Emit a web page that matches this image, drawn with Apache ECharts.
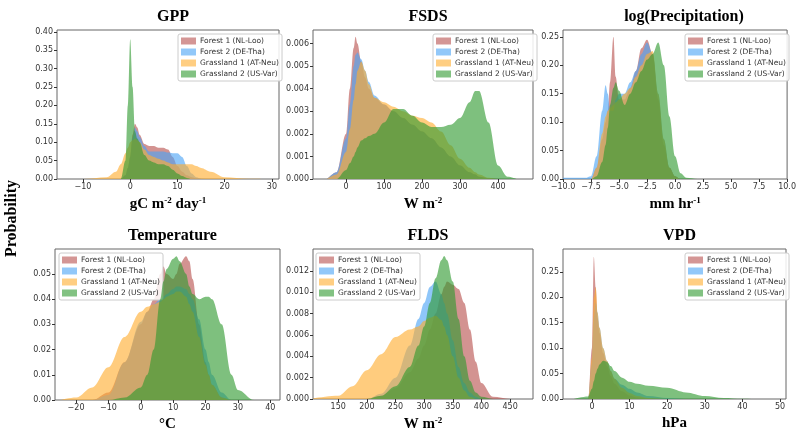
<!DOCTYPE html>
<html><head><meta charset="utf-8">
<script src="https://cdn.jsdelivr.net/npm/echarts@6/dist/echarts.min.js"></script>
<style>html,body{margin:0;padding:0;background:#fff}#c{width:799px;height:433px}</style>
</head><body><div id="c"></div>
<script>
const seriesNames = ['Forest 1 (NL-Loo)','Forest 2 (DE-Tha)','Grassland 1 (AT-Neu)','Grassland 2 (US-Var)'];

const gppX = [-15,-10,-5,-3,-2,-1,-0.5,0,0.5,1,1.5,2,3,4,5,6,7,8,9,10,11,12,13,14,15,17,20,25,30];
const gppF1 = [0,0,0,0,0,0.01,0.03,0.06,0.12,0.15,0.14,0.12,0.095,0.09,0.09,0.085,0.085,0.08,0.06,0.035,0.02,0.01,0.005,0.002,0,0,0,0,0];
const gppF2 = [0,0,0,0,0,0.01,0.03,0.06,0.11,0.14,0.13,0.115,0.09,0.075,0.075,0.075,0.075,0.072,0.07,0.07,0.06,0.035,0.015,0.005,0.001,0,0,0,0];
const gppG1 = [0,0,0.005,0.02,0.04,0.07,0.085,0.1,0.105,0.11,0.105,0.1,0.08,0.065,0.06,0.055,0.05,0.045,0.04,0.04,0.04,0.04,0.04,0.035,0.03,0.02,0.005,0.001,0];
const gppG2 = [0,0,0,0,0,0.05,0.2,0.38,0.25,0.13,0.11,0.1,0.065,0.05,0.045,0.04,0.04,0.035,0.025,0.015,0.008,0.003,0,0,0,0,0,0,0];

const fsdsX = [-50,-25,0,10,20,25,30,40,50,60,75,100,125,150,175,200,225,250,275,300,325,340,350,375,400,425,450];
const fsdsF1 = [0,0.0003,0.002,0.004,0.0058,0.0063,0.006,0.0052,0.0045,0.004,0.0036,0.0033,0.003,0.0027,0.0024,0.0021,0.0018,0.0014,0.001,0.0006,0.0003,0.0002,0.0001,0.00003,0,0,0];
const fsdsF2 = [0,0.0003,0.0018,0.0033,0.005,0.0055,0.0056,0.0053,0.0048,0.0043,0.0037,0.0033,0.003,0.0027,0.0024,0.0021,0.0018,0.0014,0.001,0.0006,0.0003,0.0002,0.0001,0.00003,0,0,0];
const fsdsG1 = [0,0.0002,0.0012,0.0022,0.0035,0.0042,0.0048,0.0052,0.0048,0.0042,0.0036,0.0034,0.0032,0.003,0.0028,0.0027,0.0025,0.0021,0.0015,0.0009,0.0005,0.0003,0.0002,0.00005,0,0,0];
const fsdsG2 = [0,0,0.0004,0.0007,0.001,0.0012,0.0014,0.0017,0.0018,0.0019,0.002,0.0025,0.0031,0.0031,0.0028,0.0025,0.0023,0.0023,0.0024,0.0027,0.0034,0.0039,0.0039,0.0025,0.0006,0.0001,0];

const preX = [-10,-8,-7.5,-7,-6.5,-6.2,-6,-5.8,-5.5,-5.3,-5,-4.5,-4,-3.5,-3,-2.5,-2,-1.5,-1,-0.5,0,0.5,1,2,10];
const preF1 = [0,0,0,0.02,0.07,0.1,0.12,0.17,0.25,0.18,0.14,0.14,0.16,0.19,0.23,0.245,0.22,0.14,0.06,0.02,0.005,0,0,0,0];
const preF2 = [0.002,0.002,0.005,0.04,0.12,0.165,0.15,0.12,0.12,0.14,0.15,0.15,0.17,0.19,0.22,0.24,0.22,0.15,0.07,0.02,0.005,0,0,0,0];
const preG1 = [0,0,0,0.02,0.08,0.11,0.12,0.125,0.13,0.135,0.14,0.15,0.16,0.18,0.2,0.22,0.225,0.15,0.07,0.02,0.005,0,0,0,0];
const preG2 = [0,0,0,0.005,0.03,0.06,0.09,0.13,0.16,0.17,0.155,0.13,0.15,0.17,0.19,0.21,0.22,0.24,0.2,0.11,0.04,0.01,0.002,0,0];

const tmpX = [-25,-20,-15,-10,-5,0,2,4,6,7,8,10,11,12,14,15,16,18,20,21,22,25,28,30,35,40];
const tmpF1 = [0,0,0,0.003,0.015,0.03,0.035,0.04,0.05,0.053,0.05,0.048,0.05,0.054,0.057,0.055,0.048,0.03,0.015,0.01,0.006,0.001,0,0,0,0];
const tmpF2 = [0,0,0,0.002,0.015,0.031,0.035,0.038,0.04,0.041,0.042,0.044,0.045,0.045,0.044,0.042,0.04,0.032,0.02,0.015,0.01,0.003,0,0,0,0];
const tmpG1 = [0,0.001,0.005,0.013,0.025,0.035,0.037,0.038,0.039,0.04,0.041,0.042,0.043,0.043,0.041,0.038,0.035,0.025,0.014,0.01,0.006,0.001,0,0,0,0];
const tmpG2 = [0,0,0,0,0.001,0.005,0.01,0.02,0.04,0.047,0.052,0.056,0.057,0.055,0.05,0.045,0.042,0.04,0.041,0.041,0.04,0.03,0.01,0.004,0,0];

const fldX = [100,150,175,200,225,250,275,290,300,310,320,330,335,340,350,360,370,380,390,400,420,450,480];
const fldF1 = [0,0,0,0,0.0003,0.001,0.0025,0.0038,0.005,0.0065,0.008,0.0098,0.0105,0.011,0.0107,0.0103,0.009,0.0065,0.0035,0.0015,0.0002,0,0];
const fldF2 = [0,0,0,0,0.0005,0.002,0.005,0.0075,0.009,0.0105,0.011,0.0098,0.009,0.008,0.0055,0.003,0.0015,0.0006,0.0002,0,0,0,0];
const fldG1 = [0,0.0003,0.0012,0.0027,0.0042,0.0058,0.0065,0.0068,0.0073,0.0076,0.0078,0.0074,0.0068,0.006,0.004,0.002,0.0008,0.0002,0,0,0,0,0];
const fldG2 = [0,0,0,0,0.0003,0.0012,0.003,0.005,0.0068,0.009,0.0113,0.013,0.0134,0.013,0.011,0.0075,0.004,0.0017,0.0006,0.0002,0,0,0];

const vpdX = [-5,-1,0,0.5,1,1.5,2,3,4,5,6,8,10,12,15,20,25,30,35,40,45,50];
const vpdF1 = [0,0,0.1,0.28,0.22,0.16,0.13,0.09,0.065,0.045,0.03,0.015,0.007,0.003,0.001,0,0,0,0,0,0,0];
const vpdF2 = [0,0,0.07,0.16,0.19,0.17,0.14,0.1,0.075,0.055,0.04,0.028,0.02,0.013,0.006,0.002,0,0,0,0,0,0];
const vpdG1 = [0,0,0.08,0.2,0.22,0.17,0.14,0.1,0.075,0.055,0.04,0.022,0.012,0.006,0.002,0,0,0,0,0,0,0];
const vpdG2 = [0,0.005,0.02,0.035,0.05,0.06,0.068,0.075,0.073,0.065,0.055,0.042,0.034,0.03,0.026,0.022,0.013,0.006,0.002,0.0005,0,0];

const gppXTicks = [-10,0,10,20,30];  const gppYTicks = [0,0.05,0.1,0.15,0.2,0.25,0.3,0.35,0.4];
const fsdsXTicks = [0,100,200,300,400]; const fsdsYTicks = [0,0.001,0.002,0.003,0.004,0.005,0.006];
const preXTicks = [-10,-7.5,-5,-2.5,0,2.5,5,7.5,10]; const preYTicks = [0,0.05,0.1,0.15,0.2,0.25];
const tmpXTicks = [-20,-10,0,10,20,30,40]; const tmpYTicks = [0,0.01,0.02,0.03,0.04,0.05];
const fldXTicks = [150,200,250,300,350,400,450]; const fldYTicks = [0,0.002,0.004,0.006,0.008,0.01,0.012];
const vpdXTicks = [0,10,20,30,40,50]; const vpdYTicks = [0,0.05,0.1,0.15,0.2,0.25];

const titles = ['GPP','FSDS','log(Precipitation)','Temperature','FLDS','VPD'];
const xNames = ['gC m{s|-2} day{s|-1}','W m{s|-2}','mm hr{s|-1}','°C','W m{s|-2}','hPa'];

const colors = ['#b8504e','#4aa3f5','#ffad2e','#2f9a2f'];
const panels = [
  {x:gppX, ys:[gppF1,gppF2,gppG1,gppG2], xt:gppXTicks, yt:gppYTicks, xr:[-15.5,31.5], yr:[0,0.405], xd:0, yd:2,
   g:{left:57,top:30,width:222,height:149}, lg:{left:178,top:34}},
  {x:fsdsX, ys:[fsdsF1,fsdsF2,fsdsG1,fsdsG2], xt:fsdsXTicks, yt:fsdsYTicks, xr:[-87,492], yr:[0,0.0066], xd:0, yd:3,
   g:{left:313,top:30,width:220,height:149}, lg:{left:433,top:34}},
  {x:preX, ys:[preF1,preF2,preG1,preG2], xt:preXTicks, yt:preYTicks, xr:[-10,10], yr:[0,0.262], xd:1, yd:2,
   g:{left:563,top:30,width:232,height:149}, lg:{left:685,top:34}},
  {x:tmpX, ys:[tmpF1,tmpF2,tmpG1,tmpG2], xt:tmpXTicks, yt:tmpYTicks, xr:[-26.5,43], yr:[0,0.0599], xd:0, yd:2,
   g:{left:55,top:249,width:225,height:151}, lg:{left:59,top:253}},
  {x:fldX, ys:[fldF1,fldF2,fldG1,fldG2], xt:fldXTicks, yt:fldYTicks, xr:[106,490], yr:[0,0.01405], xd:0, yd:3,
   g:{left:313,top:249,width:220,height:151}, lg:{left:316,top:253}},
  {x:vpdX, ys:[vpdF1,vpdF2,vpdG1,vpdG2], xt:vpdXTicks, yt:vpdYTicks, xr:[-7.7,51.6], yr:[0,0.295], xd:0, yd:2,
   g:{left:563,top:249,width:223,height:150}, lg:{left:685,top:253}}
];

const fmt = d => v => { const s = Number(v).toFixed(d); return s.replace('-', '\u2212'); };
const serif = 'Liberation Serif';
const tickFont = {fontFamily:'DejaVu Sans', fontSize:8, color:'#333'};

const option = {backgroundColor:'#fff', animation:false, title:[], grid:[], xAxis:[], yAxis:[], legend:[], series:[],
  graphic:[{type:'text', left:4, top:180, rotation:Math.PI/2,
    style:{text:'Probability', font:'bold 16px "Liberation Serif"', fill:'#000'}}]};

panels.forEach((p,i) => {
  option.grid.push(Object.assign({show:true, borderColor:'#666', borderWidth:1, backgroundColor:'#fff'}, p.g));
  option.title.push({text:titles[i], left:p.g.left + p.g.width/2, top:p.g.top - 26, textAlign:'center',
    textStyle:{fontFamily:serif, fontWeight:'bold', fontSize:16, color:'#000'}});
  option.xAxis.push({type:'value', gridIndex:i, min:p.xr[0], max:p.xr[1],
    name:xNames[i], nameLocation:'middle', nameGap:17,
    nameTextStyle:{fontFamily:serif, fontWeight:'bold', fontSize:15, color:'#000',
      rich:{s:{fontFamily:serif, fontWeight:'bold', fontSize:9, verticalAlign:'top', padding:[0,0,8,0]}}},
    axisLine:{show:false, onZero:false}, splitLine:{show:false},
    axisTick:{show:true, length:3, customValues:p.xt, lineStyle:{color:'#333'}},
    axisLabel:Object.assign({customValues:p.xt, margin:4, formatter:fmt(p.xd)}, tickFont)});
  option.yAxis.push({type:'value', gridIndex:i, min:p.yr[0], max:p.yr[1],
    axisLine:{show:false, onZero:false}, splitLine:{show:false},
    axisTick:{show:true, length:3, customValues:p.yt, lineStyle:{color:'#333'}},
    axisLabel:Object.assign({customValues:p.yt, margin:4, formatter:fmt(p.yd)}, tickFont)});
  option.legend.push({left:p.lg.left, top:p.lg.top, orient:'vertical', icon:'rect', itemWidth:15, itemHeight:7,
    itemGap:3, padding:[3,3,3,3], borderColor:'#ccc', borderWidth:1, borderRadius:2, backgroundColor:'rgba(255,255,255,0.85)',
    textStyle:{fontFamily:'DejaVu Sans', fontSize:7.5, color:'#333', padding:[0,0,0,-1]},
    itemStyle:{opacity:0.6}, data:seriesNames, selectedMode:false});
  p.ys.forEach((ys,k) => {
    option.series.push({type:'line', name:seriesNames[k], xAxisIndex:i, yAxisIndex:i,
      data:p.x.map((xv,j)=>[xv, ys[j]]), smooth:0.35, smoothMonotone:'x', showSymbol:false, symbol:'none',
      color:colors[k], lineStyle:{width:0}, areaStyle:{color:colors[k], opacity:0.62}, z:2+k});
  });
});

echarts.init(document.getElementById('c')).setOption(option);
</script></body></html>
